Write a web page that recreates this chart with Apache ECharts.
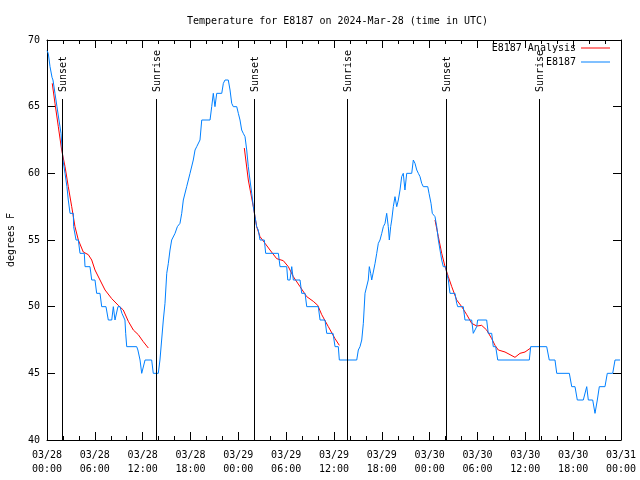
<!DOCTYPE html>
<html>
<head>
<meta charset="utf-8">
<script src="https://cdn.jsdelivr.net/npm/echarts/dist/echarts.min.js"></script>
<style>
html,body{margin:0;padding:0;background:#fff;}
#chart{width:640px;height:480px;}
</style>
</head>
<body>
<div id="chart"></div>
<script>
// Hours since 2024-03-28 00:00 UTC, temperature in degrees F
var obsHours = [0,0.16,0.38,0.63,0.75,1.0,1.25,1.5,1.76,1.88,2.0,2.26,2.5,2.67,2.89,3.3,3.34,3.64,3.93,4.14,4.68,4.77,5.39,5.61,6.02,6.23,6.65,6.86,7.4,7.69,8.12,8.32,8.53,8.72,8.9,9.16,9.4,9.78,9.87,10.0,11.25,11.4,11.67,11.88,12.04,12.3,13.13,13.33,13.96,14.17,14.59,14.8,15.02,15.22,15.43,15.64,16.06,16.35,16.68,16.9,17.1,17.52,17.94,18.35,18.57,18.78,19.19,19.41,20.45,20.66,20.86,21.07,21.29,21.92,22.12,22.33,22.74,22.96,23.17,23.37,23.8,24.0,24.21,24.42,24.62,24.84,25.05,25.25,25.46,25.68,25.88,26.09,26.3,26.5,26.72,27.26,27.43,29.02,29.23,30.07,30.2,30.48,30.7,30.9,31.74,31.95,32.37,32.58,34.03,34.25,34.87,35.09,35.88,36.13,36.54,36.67,38.85,39.05,39.26,39.48,39.68,39.89,40.1,40.3,40.43,40.6,40.73,40.93,41.15,41.36,41.56,41.77,41.99,42.19,42.4,42.61,42.81,42.94,43.11,43.24,43.44,43.65,43.87,44.07,44.28,44.49,44.69,44.9,45.12,45.75,45.95,46.16,46.38,46.58,46.79,47.0,47.2,47.76,47.92,48.17,48.33,48.67,48.89,49.09,49.3,49.51,49.71,50.01,50.14,50.34,50.55,51.18,51.39,51.52,52.22,52.43,53.27,53.47,53.68,53.9,54.02,55.15,55.35,55.78,55.98,56.28,56.54,60.5,60.67,62.68,63.0,63.72,63.94,65.52,65.82,66.23,66.52,67.27,67.7,67.9,68.45,68.74,69.03,69.28,69.99,70.28,70.96,71.25,71.88];
var obsTemps = [69.2,69,68,67.2,67,66,65,64,63,62,61,60,59,58,57,57,56,55,55,54,54,53,53,52,52,51,51,50,50,49,49,50,49,49,50,50,49.5,49,48,47,47,46.75,46,45,45,46,46,45,45,46,49,50.25,52.5,53.25,54.25,55,55.5,56,56.25,57,58,59,60,61,61.75,62,62.5,64,64,65,66,65,66,66,66.75,67,67,66.25,65.25,65,65,64.5,64,63.25,63,62.75,61.75,60.5,59.5,58.5,57.5,56.75,56,55.75,55,55,54,54,53,53,52,52,53,52,52,51,51,50,50,49,49,48,48,47,47,46,46,46.75,47,47.5,48.75,51,51,52,53,52.5,52,52,53.25,54,54.75,55,55.5,56,56.25,57,56,55,56,56.5,57.5,58.25,57.5,58,58.75,59.75,60,58.75,60,60,61,60.75,60.25,60,59.75,59.25,59,59,58.5,57.75,57,56.75,56,55,54.25,53.5,53,53,52.5,52,51,51,50.25,50,50,49,49,48,48,48.5,49,49,48,48,47,47,46,46,47,47,46,46,45,45,44,44,43,43,44,43,43,42,43,44,44,45,45,46,46];

var anaHours1 = [0.66,1.0,1.42,1.84,2.26,2.67,3.1,3.51,3.93,4.55,5.18,5.61,6.02,6.65,7.28,8.12,8.94,9.57,10.2,10.83,11.45,12.04,12.71];
var anaTemps1 = [66.75,65.25,63.5,61.75,60.5,59,57.5,56,55,54.1,53.9,53.5,52.75,52,51.25,50.6,50.1,49.75,48.9,48.25,47.9,47.4,46.9];
var anaHours2 = [24.75,25.25,25.88,26.3,26.72,27.35,27.97,28.81,29.64,30.27,30.9,31.74,32.58,33.4,33.96,34.46,35.29,36.13,36.67];
var anaTemps2 = [61.9,59.5,57.5,56,55.25,54.75,54.25,53.6,53.45,53,52.25,51.5,50.75,50.4,50.1,49.4,48.5,47.6,47.1];
var anaHours3 = [48.67,49.09,49.51,49.93,50.34,50.77,51.39,52.02,52.65,53.27,53.9,54.52,55.15,55.78,56.2,56.61,57.45,58.08,58.7,59.33,59.96,60.67];
var anaTemps3 = [56.5,55.25,54,53,52.25,51.5,50.5,50,49.4,48.75,48.55,48.6,48.25,47.6,47.1,46.75,46.6,46.4,46.2,46.5,46.6,46.9];

var sunHours = [1.92,13.67,26.0,37.67,50.09,61.76];
var sunLabels = ['Sunset','Sunrise','Sunset','Sunrise','Sunset','Sunrise'];

var xTickLabels = ['03/28\n00:00','03/28\n06:00','03/28\n12:00','03/28\n18:00','03/29\n00:00','03/29\n06:00','03/29\n12:00','03/29\n18:00','03/30\n00:00','03/30\n06:00','03/30\n12:00','03/30\n18:00','03/31\n00:00'];
var yTicks = [40,45,50,55,60,65,70];

var titleText = 'Temperature for E8187 on 2024-Mar-28 (time in UTC)';
var yName = 'degrees F';
var obsName = 'E8187';
var anaName = 'E8187 Analysis';

function zip(a, b) { return a.map(function (v, i) { return [v, b[i]]; }); }

var FONT = '"DejaVu Sans Mono", "Liberation Mono", monospace';
var chart = echarts.init(document.getElementById('chart'), null, {renderer: 'canvas'});

var xBase = {
  type: 'value', min: 0, max: 72, interval: 6,
  axisLine: {show: true, onZero: false, lineStyle: {color: '#000', width: 1}},
  axisTick: {show: true, inside: true, length: 8, lineStyle: {color: '#000'}},
  minorTick: {show: true, splitNumber: 3, length: 4, lineStyle: {color: '#000'}},
  splitLine: {show: false}, minorSplitLine: {show: false}
};
var yBase = {
  type: 'value', min: 40, max: 70, interval: 5,
  axisLine: {show: true, onZero: false, lineStyle: {color: '#000', width: 1}},
  axisTick: {show: true, inside: true, length: 8, lineStyle: {color: '#000'}},
  splitLine: {show: false}
};

var option = {
  animation: false,
  backgroundColor: '#fff',
  title: {
    text: titleText, left: 182, top: 11,
    textStyle: {fontFamily: FONT, fontSize: 10, fontWeight: 'normal', color: '#000'}
  },
  legend: [
    {data: [anaName], right: 30, top: 43, orient: 'vertical', align: 'right', itemWidth: 29, itemHeight: 1,
     icon: 'rect', padding: 0, textStyle: {fontFamily: FONT, fontSize: 10, color: '#000'}, selectedMode: false},
    {data: [obsName], right: 30, top: 57, orient: 'vertical', align: 'right', itemWidth: 29, itemHeight: 1,
     icon: 'rect', padding: 0, textStyle: {fontFamily: FONT, fontSize: 10, color: '#000'}, selectedMode: false}
  ],
  grid: {left: 47, right: 19, top: 40, bottom: 40, containLabel: false, outerBoundsMode: 'none'},
  xAxis: [
    Object.assign({}, xBase, {position: 'bottom',
      axisLabel: {show: true, margin: 8, fontFamily: FONT, fontSize: 10, lineHeight: 14, color: '#000',
        formatter: function (v) { return xTickLabels[Math.round(v / 6)]; }}}),
    Object.assign({}, xBase, {position: 'top', axisLabel: {show: false}})
  ],
  yAxis: [
    Object.assign({}, yBase, {position: 'left', name: yName, nameLocation: 'middle', nameGap: 31, nameRotate: 90,
      nameTextStyle: {fontFamily: FONT, fontSize: 10, color: '#000'},
      axisLabel: {show: true, margin: 7, fontFamily: FONT, fontSize: 10, color: '#000',
        formatter: function (v) { return yTicks.indexOf(v) >= 0 ? String(v) : ''; }}}),
    Object.assign({}, yBase, {position: 'right', axisLabel: {show: false}})
  ],
  series: [
    {type: 'line', name: anaName, data: zip(anaHours1, anaTemps1), showSymbol: false, symbol: 'none',
     itemStyle: {color: '#ff0000'}, lineStyle: {color: '#ff0000', width: 1}, z: 2},
    {type: 'line', name: anaName, data: zip(anaHours2, anaTemps2), showSymbol: false, symbol: 'none',
     itemStyle: {color: '#ff0000'}, lineStyle: {color: '#ff0000', width: 1}, z: 2},
    {type: 'line', name: anaName, data: zip(anaHours3, anaTemps3), showSymbol: false, symbol: 'none',
     itemStyle: {color: '#ff0000'}, lineStyle: {color: '#ff0000', width: 1}, z: 2},
    {type: 'line', name: obsName, data: zip(obsHours, obsTemps), showSymbol: false, symbol: 'none',
     itemStyle: {color: '#0080ff'}, lineStyle: {color: '#0080ff', width: 1}, z: 3},
    {type: 'custom', name: 'sun', data: sunHours.map(function (h) { return [h]; }), z: 4, silent: true,
     encode: {x: 0},
     renderItem: function (params, api) {
       var p0 = api.coord([api.value(0), 40]);
       var p1 = api.coord([api.value(0), 65.6]);
       var x = Math.round(p0[0]) + 0.5;
       return {type: 'group', children: [
         {type: 'line', shape: {x1: x, y1: p0[1], x2: x, y2: Math.round(p1[1])},
          style: {stroke: '#000', lineWidth: 1}},
         {type: 'text', x: x + 1, y: Math.round(p1[1]) - 7, rotation: Math.PI / 2,
          style: {text: sunLabels[params.dataIndex], fill: '#000', font: '10px ' + FONT,
                  align: 'left', verticalAlign: 'middle'}}
       ]};
     }}
  ]
};
chart.setOption(option);
</script>
</body>
</html>
